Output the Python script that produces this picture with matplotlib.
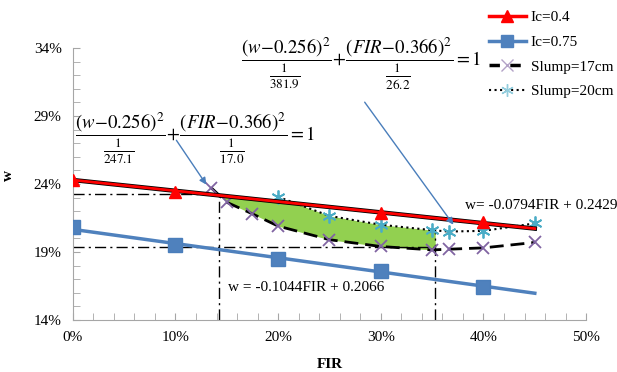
import numpy as np
import matplotlib
matplotlib.use("Agg")
import matplotlib.pyplot as plt
from matplotlib.ticker import MultipleLocator, PercentFormatter

plt.rcParams["font.family"] = ["Liberation Serif", "DejaVu Serif"]
plt.rcParams["mathtext.fontset"] = "stix"

# Datos
fir_ic04 = [0.00, 0.10, 0.30, 0.40]
w_ic04 = [0.243, 0.234, 0.219, 0.212]
fit_ic04 = (-0.0794, 0.2429)

fir_ic075 = [0.00, 0.10, 0.20, 0.30, 0.40]
w_ic075 = [0.208, 0.195, 0.185, 0.176, 0.164]
fit_ic075 = (-0.1044, 0.2066)

fir_s17 = [0.135, 0.15, 0.175, 0.20, 0.25, 0.30, 0.35, 0.366, 0.40, 0.45]
w_s17 = [0.237, 0.2265, 0.218, 0.209, 0.199, 0.194, 0.1915, 0.192, 0.193, 0.197]

fir_s20 = [0.20, 0.25, 0.30, 0.35, 0.366, 0.40, 0.45]
w_s20 = [0.2305, 0.2165, 0.210, 0.206, 0.205, 0.2055, 0.211]

y_ticks = [0.14, 0.19, 0.24, 0.29, 0.34]

fir_lo, fir_hi = 0.142, 0.353
w_hi, w_lo = 0.2326, 0.1937
fit_end = 0.45

eq1 = r"$\dfrac{(w\!-\!0.256)^2}{\frac{1}{247.1}}\!+\!\dfrac{(FIR\!-\!0.366)^2}{\frac{1}{17.0}} = 1$"
eq2 = r"$\dfrac{(w\!-\!0.256)^2}{\frac{1}{381.9}}\!+\!\dfrac{(FIR\!-\!0.366)^2}{\frac{1}{26.2}} = 1$"

fig = plt.figure(figsize=(6.17, 3.72), dpi=100)
ax = fig.add_axes([0.118, 0.140, 0.832, 0.731])

# zona verde entre las curvas de asentamiento
xs = np.linspace(fir_lo, fir_hi, 200)
red_fit = fit_ic04[0] * xs + fit_ic04[1]
upper = np.where(xs < fir_s20[0], red_fit,
                 np.minimum(red_fit, np.interp(xs, fir_s20, w_s20)))
lower = np.interp(xs, fir_s17, w_s17)
ax.fill_between(xs, lower, upper, color="#92d050", lw=0, zorder=1)

# lineas de referencia
dash_dot = (0, (8, 3, 1.5, 3))
ax.plot([0, fir_lo], [w_hi, w_hi], color="black", lw=1, ls=dash_dot, zorder=2)
ax.plot([0, fir_hi], [w_lo, w_lo], color="black", lw=1, ls=dash_dot, zorder=2)
ax.plot([fir_lo, fir_lo], [0.14, w_hi - 0.001], color="black", lw=1, ls=dash_dot, zorder=2)
ax.plot([fir_hi, fir_hi], [0.14, 0.2075], color="black", lw=1, ls=dash_dot, zorder=2)

# Slump
ax.plot(fir_s17, w_s17, color="black", lw=2, ls=(0, (5, 2.5)), zorder=3)
ax.plot(fir_s17, w_s17, ls="none", marker="x", ms=8, mew=1.3, color="#8064a2", zorder=4)
ax.plot(fir_s20, w_s20, color="black", lw=1.5, ls=":", zorder=3)
ax.plot(fir_s20, w_s20, ls="none", marker=(6, 2, 0), ms=10, mew=1.3, color="#4bacc6", zorder=4)

# Ic y lineas de tendencia
xe = np.array([0, fit_end])
ax.plot(xe, fit_ic04[0] * xe + fit_ic04[1], color="black", lw=3.2, zorder=5)
ax.plot(xe, fit_ic04[0] * xe + fit_ic04[1], color="red", lw=2, zorder=6)
ax.plot(fir_ic04, w_ic04, ls="none", marker="^", ms=9, color="red", zorder=7)
ax.plot(xe, fit_ic075[0] * xe + fit_ic075[1], color="#4f81bd", lw=2.5, zorder=5)
ax.plot(fir_ic075, w_ic075, ls="none", marker="s", ms=10, color="#4f81bd",
        mec="#4a7ebb", zorder=7)

# entradas de la leyenda
h1, = ax.plot([], [], color="red", lw=2.5, marker="^", ms=8)
h2, = ax.plot([], [], color="#4f81bd", lw=2.5, marker="s", ms=9)
h3, = ax.plot([], [], color="black", lw=2.5, ls=(0, (3, 3)), marker="x", ms=8,
              mec="#b3a2c7", mew=1)
h4, = ax.plot([], [], color="black", lw=1.5, ls=":", marker=(6, 2, 0), ms=9,
              mec="#93cddd", mew=1)
fig.legend([h1, h2, h3, h4], ["Ic=0.4", "Ic=0.75", "Slump=17cm", "Slump=20cm"],
           loc="upper left", bbox_to_anchor=(0.775, 1.0), frameon=False,
           fontsize=11, handlelength=2.4, labelspacing=0.72, handletextpad=0.35,
           borderaxespad=0.3)

# ecuaciones y flechas
arrow_c = "#4a7ebb"
ax.text(0.119, 0.2735, eq1, fontsize=13.5, ha="center", va="center", zorder=8)
ax.text(0.281, 0.3285, eq2, fontsize=13.5, ha="center", va="center", zorder=8)
ax.annotate("", xy=(0.1316, 0.2378), xytext=(0.0994, 0.2738),
            arrowprops=dict(arrowstyle="-|>", color=arrow_c, lw=1, mutation_scale=10), zorder=8)
ax.annotate("", xy=(0.3723, 0.2084), xytext=(0.2827, 0.3018),
            arrowprops=dict(arrowstyle="-|>", color=arrow_c, lw=1, mutation_scale=10), zorder=8)

ax.text(0.382, 0.2245, "w= -0.0794FIR + 0.2429", fontsize=11, va="center")
ax.text(0.151, 0.1635, "w = -0.1044FIR + 0.2066", fontsize=11, va="center")

ax.set_xlim(0, 0.5)
ax.set_ylim(0.14, 0.34)
ax.xaxis.set_major_locator(MultipleLocator(0.10))
ax.xaxis.set_minor_locator(MultipleLocator(0.02))
ax.set_yticks(y_ticks)
ax.yaxis.set_minor_locator(MultipleLocator(0.01))
ax.xaxis.set_major_formatter(PercentFormatter(1.0, decimals=0))
ax.yaxis.set_major_formatter(PercentFormatter(1.0, decimals=0))
ax.tick_params(which="both", direction="in", color="#a6a6a6", labelsize=11)
ax.tick_params(which="major", length=5, pad=8)
ax.tick_params(which="minor", length=5)
for s in ["top", "right"]:
    ax.spines[s].set_visible(False)
for s in ["left", "bottom"]:
    ax.spines[s].set_color("#a6a6a6")

ax.set_xlabel("FIR", fontsize=11, fontweight="bold", labelpad=10)
ax.set_ylabel("w", fontsize=11, fontweight="bold")
ax.yaxis.set_label_coords(-0.112, 0.53)

fig.savefig("out.png", dpi=100)
